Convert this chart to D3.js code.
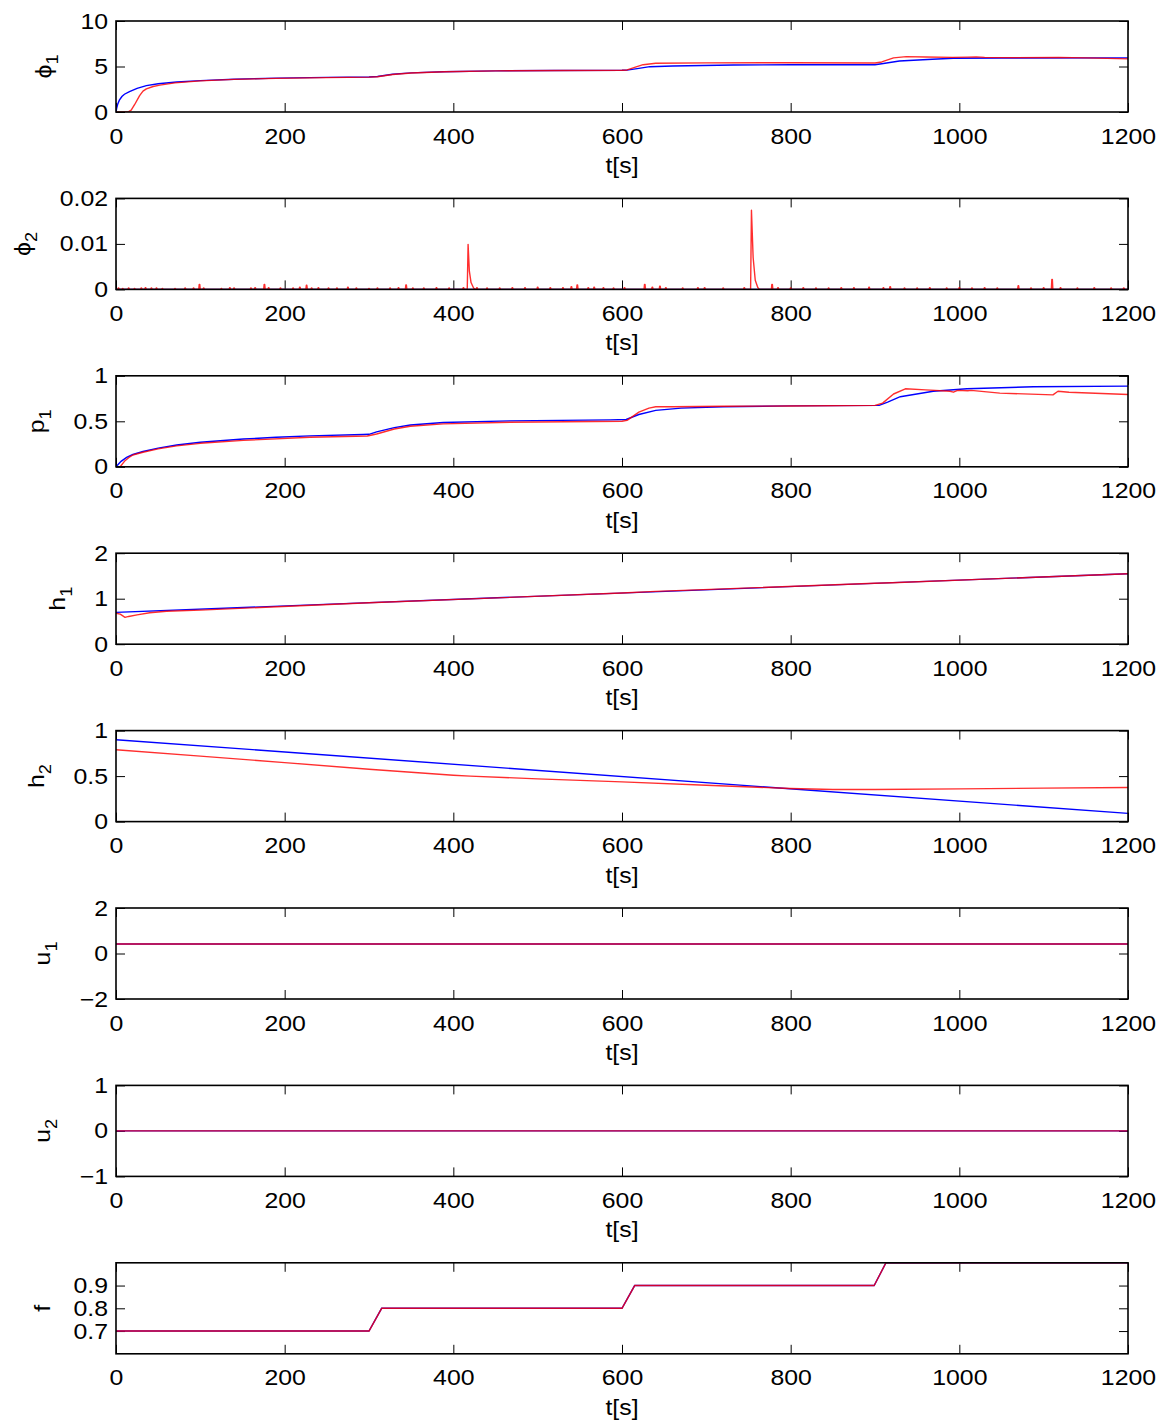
<!DOCTYPE html>
<html>
<head>
<meta charset="utf-8">
<script src="https://cdnjs.cloudflare.com/ajax/libs/d3/7.8.5/d3.min.js"></script>
<style>
  body { margin: 0; background: #fff; }
  text { font-family: "Liberation Sans", Arial, Helvetica, sans-serif; fill: #000; }
</style>
</head>
<body>
<div id="chart"></div>
<script>
// ---------------------
// data, [t, value]

var tTicks = [0, 200, 400, 600, 800, 1000, 1200];

var phi1Ref = [[0,0],[1,0.5],[2,0.85],[4,1.3],[7,1.7],[10,1.95],[16,2.25],[25,2.6],[36,2.9],[50,3.1],[72,3.3],[100,3.45],
  [140,3.6],[190,3.72],[250,3.8],[300,3.85],[310,3.9],[328,4.15],[350,4.3],[388,4.43],[450,4.52],[520,4.56],
  [600,4.58],[606,4.6],[620,4.8],[633,4.98],[660,5.05],[732,5.16],[800,5.2],[900,5.2],[908,5.3],[929,5.6],
  [968,5.79],[993,5.9],[1050,5.94],[1200,5.95]];
var phi1Est = [[0,0],[14,0],[18,0.2],[22,0.8],[28,1.8],[32,2.3],[36,2.55],[44,2.8],[52,2.95],[70,3.2],
  [100,3.42],[140,3.58],[190,3.7],[250,3.78],[300,3.83],[310,3.88],[328,4.12],[350,4.28],[390,4.43],[450,4.52],
  [600,4.58],[606,4.62],[615,4.9],[625,5.2],[640,5.35],[700,5.4],[800,5.42],[900,5.38],[908,5.5],[922,5.95],
  [937,6.08],[960,6.05],[992,6.0],[1010,6.03],[1020,6.06],[1030,6.0],[1060,5.97],[1118,6.0],[1150,5.95],[1200,5.84]];

var phi2Ref = [[0,0],[1200,0]];
var phi2Blips = [[3,0.0003],[8,0.0002],[15,0.0003],[22,0.0002],[30,0.0003],[35,0.0004],[42,0.0003],[48,0.0003],
  [55,0.0002],[70,0.0002],[82,0.0003],[92,0.0003],[99,0.0011],[104,0.0003],[125,0.0002],[135,0.0004],[140,0.0003],
  [160,0.0003],[165,0.0004],[176,0.0011],[181,0.0004],[195,0.0003],[210,0.0003],[218,0.0005],[226,0.0009],
  [232,0.0003],[240,0.0004],[252,0.0003],[262,0.0003],[275,0.0005],[285,0.0003],[300,0.0002],[310,0.0003],
  [325,0.0003],[335,0.0004],[344,0.0010],[352,0.0003],[365,0.0003],[380,0.0004],[395,0.0003],[412,0.0004],
  [428,0.0004],[440,0.0003],[455,0.0003],[470,0.0004],[485,0.0004],[500,0.0005],[515,0.0004],[530,0.0004],
  [540,0.0006],[547,0.0010],[560,0.0004],[567,0.0005],[578,0.0004],[590,0.0003],[603,0.0004],[627,0.0011],
  [636,0.0005],[645,0.0007],[652,0.0004],[672,0.0003],[690,0.0004],[698,0.0004],[720,0.0003],[745,0.0004],
  [778,0.0011],[785,0.0004],[800,0.0003],[815,0.0004],[830,0.0003],[845,0.0003],[860,0.0004],[875,0.0004],
  [893,0.0005],[910,0.0004],[918,0.0006],[935,0.0003],[950,0.0003],[965,0.0004],[985,0.0003],[1000,0.0004],
  [1015,0.0003],[1030,0.0004],[1045,0.0003],[1070,0.0008],[1085,0.0003],[1100,0.0004],[1110,0.0022],
  [1120,0.0004],[1140,0.0003],[1160,0.0004],[1180,0.0003],[1195,0.0003]];
var phi2Spikes = [
  [[416.5,0],[417.5,0.0099],[419,0.004],[421,0.0015],[424,0.0003],[426,0]],
  [[752.5,0],[753.5,0.0174],[755.5,0.007],[758,0.002],[761,0.0004],[763,0]]
];

var p1Ref = [[0,0],[3,0.03],[6,0.06],[12.6,0.104],[20,0.135],[32,0.168],[50,0.205],[72,0.24],[100,0.27],
  [151,0.305],[190,0.325],[230,0.34],[293,0.355],[300,0.357],[309,0.384],[330,0.43],[349,0.46],[388,0.486],
  [467,0.505],[586,0.516],[605,0.52],[620,0.575],[640,0.62],[670,0.645],[720,0.66],[800,0.67],[905,0.675],
  [915,0.71],[930,0.77],[969,0.83],[1009,0.857],[1088,0.88],[1200,0.887]];
var p1Est = [[0,0],[5,0],[10,0.06],[15,0.1],[20,0.13],[32,0.16],[50,0.197],[72,0.23],[100,0.258],[151,0.29],
  [230,0.325],[298,0.338],[309,0.36],[330,0.415],[349,0.445],[388,0.472],[467,0.49],[600,0.5],[606,0.51],
  [620,0.6],[632,0.645],[640,0.66],[660,0.66],[720,0.665],[800,0.668],[900,0.675],[909,0.7],[922,0.8],
  [936,0.857],[960,0.845],[989,0.83],[993,0.82],[998,0.84],[1010,0.835],[1014,0.84],[1048,0.81],[1111,0.79],
  [1117,0.83],[1130,0.82],[1200,0.795]];

var h1Ref = [[0,0.70],[1200,1.55]];
var h1Est = [[0,0.68],[5,0.66],[10.7,0.59],[15,0.61],[25,0.645],[40,0.69],[60,0.725],[100,0.75],[300,0.91],[600,1.125],
  [640,1.16],[900,1.34],[920,1.35],[1200,1.55]];

var h2Ref = [[0,0.90],[1200,0.09]];
var h2Est = [[0,0.79],[100,0.72],[200,0.648],[300,0.575],[400,0.51],[420,0.50],[500,0.47],[600,0.436],
  [700,0.40],[800,0.364],[850,0.352],[900,0.352],[1000,0.36],[1100,0.368],[1200,0.375]];

var u1Ref = [[0,0.42],[1200,0.42]];
var u1Est = [[0,0.42],[1200,0.42]];
var u2Ref = [[0,0],[1200,0]];
var u2Est = [[0,0],[1200,0]];

var fRef = [[0,0.7],[300,0.7],[315,0.8],[600,0.8],[615,0.9],[899,0.9],[913,1.0],[1200,1.0]];
var fEst = [[0,0.7],[300,0.7],[315,0.8],[600,0.8],[615,0.9],[899,0.9],[913,1.0],[1200,1.0]];

// build the noisy phi2 estimate from the blips and spikes read above
var phi2Est = [[0,0]];
var events = phi2Blips.map(function(b) { return [[b[0]-0.9,0],[b[0]-0.3,b[1]],[b[0]+0.3,b[1]],[b[0]+0.9,0]]; })
  .concat(phi2Spikes)
  .sort(function(a, b) { return a[0][0] - b[0][0]; });
events.forEach(function(e) { phi2Est = phi2Est.concat(e); });
phi2Est.push([1200,0]);

var panels = [
  {name: "\u03d5", sub: "1", domain: [0,10], ticks: [0,5,10], fmt: d3.format("d"), ref: phi1Ref, est: phi1Est},
  {name: "\u03d5", sub: "2", domain: [0,0.02], ticks: [0,0.01,0.02], fmt: function(d) { return d == 0 ? "0" : d3.format(".2f")(d); }, ref: phi2Ref, est: phi2Est},
  {name: "p", sub: "1", domain: [0,1], ticks: [0,0.5,1], fmt: function(d) { return String(d); }, ref: p1Ref, est: p1Est},
  {name: "h", sub: "1", domain: [0,2], ticks: [0,1,2], fmt: function(d) { return String(d); }, ref: h1Ref, est: h1Est},
  {name: "h", sub: "2", domain: [0,1], ticks: [0,0.5,1], fmt: function(d) { return String(d); }, ref: h2Ref, est: h2Est},
  {name: "u", sub: "1", domain: [-2,2], ticks: [-2,0,2], fmt: function(d) { return d < 0 ? "\u2212" + (-d) : String(d); }, ref: u1Ref, est: u1Est},
  {name: "u", sub: "2", domain: [-1,1], ticks: [-1,0,1], fmt: function(d) { return d < 0 ? "\u2212" + (-d) : String(d); }, ref: u2Ref, est: u2Est},
  {name: "f", sub: "", domain: [0.6,1.0], ticks: [0.7,0.8,0.9], fmt: d3.format(".1f"), ref: fRef, est: fEst}
];

// ---------------------
// layout

var W = 1162, H = 1421;
var left = 116, right = 1128,
    top0 = 21, step = 177.4, ph = 91,
    tickLen = 9, fs = 22, sx = 1.13;

var svg = d3.select("#chart")
  .append("svg")
    .attr("width", W)
    .attr("height", H);

var x = d3.scaleLinear()
  .domain([0, 1200])
  .range([left, right]);

panels.forEach(function(p, i) {
  var top = top0 + i * step,
      bottom = top + ph;

  var y = d3.scaleLinear()
    .domain(p.domain)
    .range([bottom, top]);

  var g = svg.append("g");

  g.append("clipPath")
    .attr("id", "clip" + i)
    .append("rect")
      .attr("x", left)
      .attr("y", top)
      .attr("width", right - left)
      .attr("height", ph);

  // ticks on all four sides, inside
  g.append("g")
    .attr("transform", "translate(0," + bottom + ")")
    .call(d3.axisBottom(x).tickValues(tTicks).tickSize(-tickLen).tickPadding(16).tickFormat(d3.format("d")));
  g.append("g")
    .attr("transform", "translate(0," + top + ")")
    .call(d3.axisTop(x).tickValues(tTicks).tickSize(-tickLen).tickFormat(""));
  var yl = g.append("g")
    .attr("transform", "translate(" + left + ",0)")
    .call(d3.axisLeft(y).tickValues(p.ticks).tickSize(-tickLen).tickPadding(7).tickFormat(p.fmt));
  g.append("g")
    .attr("transform", "translate(" + right + ",0)")
    .call(d3.axisRight(y).tickValues(p.ticks).tickSize(-tickLen).tickFormat(""));

  g.selectAll(".domain").remove();
  g.selectAll(".tick line").style("stroke", "#000").style("stroke-width", 1);
  g.selectAll(".tick text")
    .attr("font-size", fs)
    .attr("font-family", null)
    .attr("transform", "scale(" + sx + ",1)")
    .style("fill", "#000");

  // lines
  var line = d3.line()
    .x(function(d) { return x(d[0]); })
    .y(function(d) { return y(d[1]); });

  var plot = g.append("g").attr("clip-path", "url(#clip" + i + ")");
  plot.append("path")
    .datum(p.ref)
    .attr("d", line)
    .style("fill", "none")
    .style("stroke", "#0000ff")
    .style("stroke-width", 1.4);
  plot.append("path")
    .datum(p.est)
    .attr("d", line)
    .style("fill", "none")
    .style("stroke", "#ff0000")
    .style("stroke-opacity", 0.82)
    .style("stroke-width", 1.4)
    .style("stroke-linejoin", "round");

  // box
  g.append("rect")
    .attr("x", left)
    .attr("y", top)
    .attr("width", right - left)
    .attr("height", ph)
    .style("fill", "none")
    .style("stroke", "#000")
    .style("stroke-width", 1.6);

  // x label
  g.append("text")
    .attr("transform", "translate(" + ((left + right) / 2) + "," + (bottom + 61) + ") scale(" + sx + ",1)")
    .attr("text-anchor", "middle")
    .attr("font-size", fs)
    .text("t[s]");

  // y label, placed left of the tick labels
  var minLeft = d3.min(yl.selectAll(".tick text").nodes(), function(n) { return n.getBoundingClientRect().left; });
  var lab = g.append("text")
    .attr("text-anchor", "middle")
    .attr("font-size", fs);
  lab.append("tspan").text(p.name);
  if (p.sub) {
    lab.append("tspan")
      .attr("font-size", 16)
      .attr("dy", 7)
      .text(p.sub);
  }
  lab.attr("transform", "translate(0," + ((top + bottom) / 2) + ") rotate(-90) scale(" + sx + ",1)");
  var bb = lab.node().getBoundingClientRect();
  var shift = (minLeft - 19) - bb.right;
  lab.attr("transform", "translate(" + shift + "," + ((top + bottom) / 2) + ") rotate(-90) scale(" + sx + ",1)");
});
</script>
</body>
</html>
